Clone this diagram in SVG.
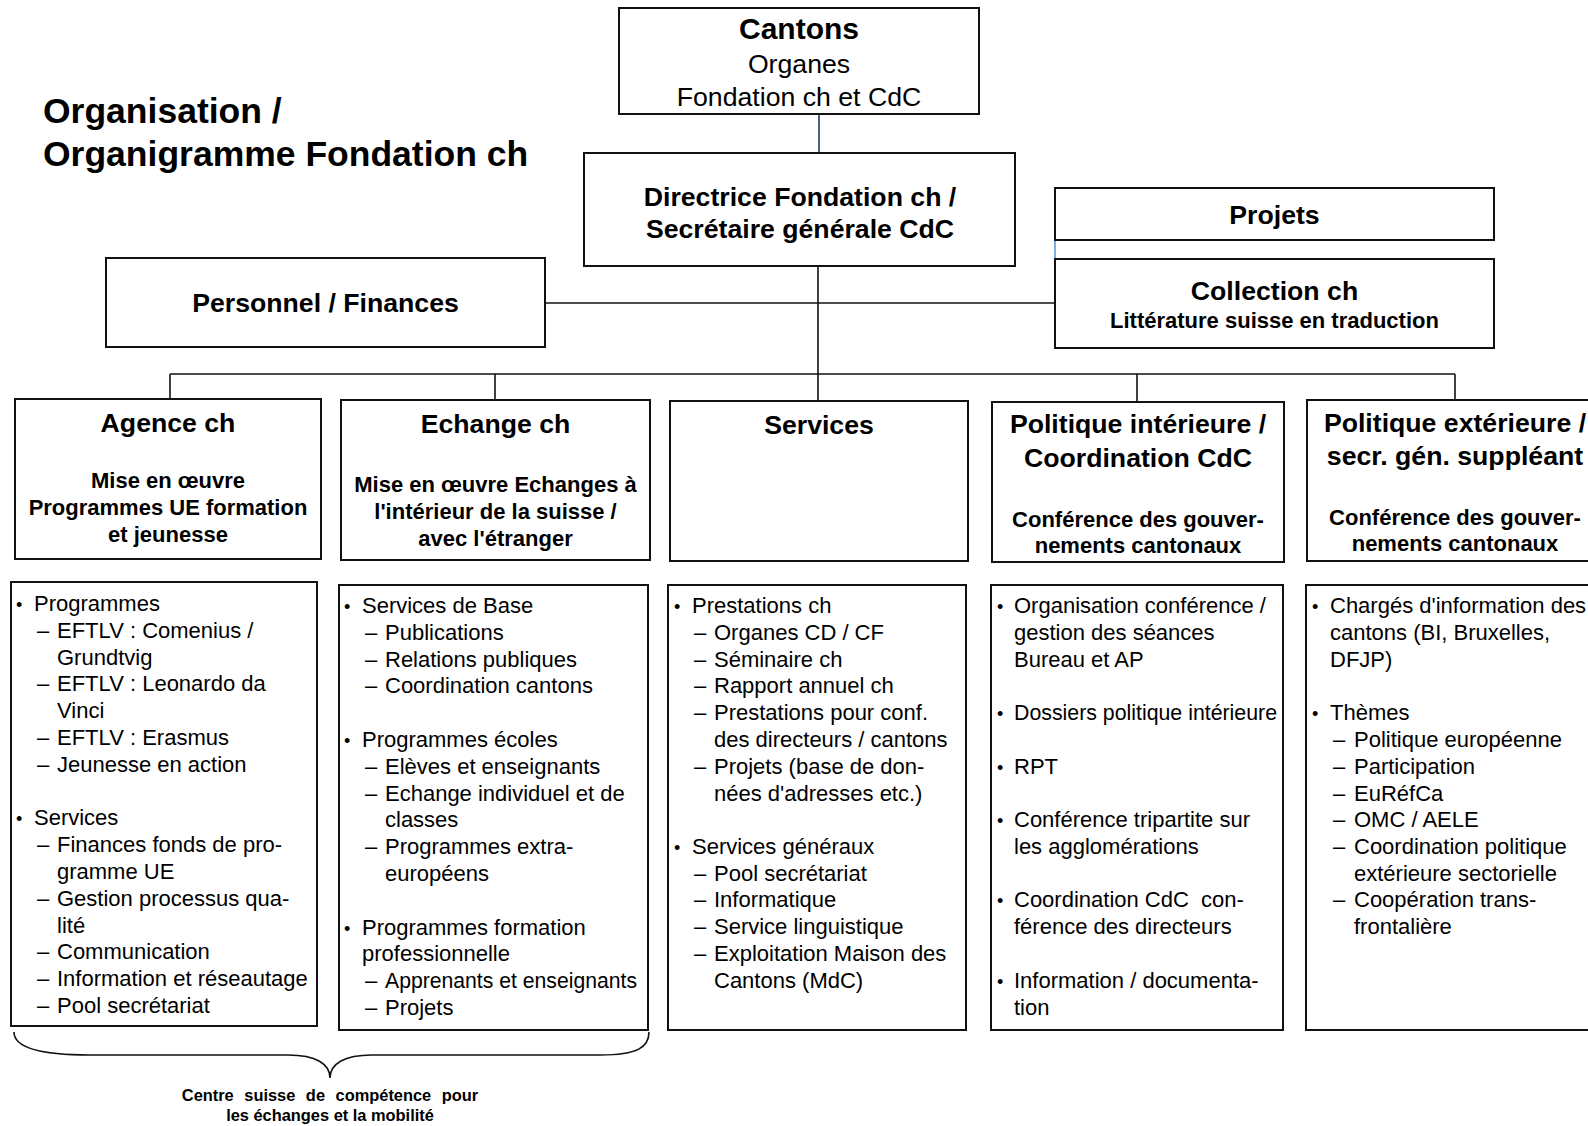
<svg xmlns="http://www.w3.org/2000/svg" width="1588" height="1126" viewBox="0 0 1588 1126">
<style>
text{font-family:"Liberation Sans",Arial,sans-serif;fill:#000}
.box{fill:#fff;stroke:#111;stroke-width:2}
.ln{fill:none;stroke:#111;stroke-width:1.6}
.t1{font-size:26.67px;font-weight:bold;text-anchor:middle}
.t2{font-size:22px;font-weight:bold;text-anchor:middle}
.tr{font-size:26.67px;text-anchor:middle}
.li{font-size:22px}
.bu{font-size:18px}
.title{font-size:35.5px;font-weight:bold}
.cap{font-size:16.4px;font-weight:bold;text-anchor:middle}
</style>
<rect width="1588" height="1126" fill="#fff"/>

<g id="title">
<text class="title" x="43" y="123">Organisation /</text>
<text class="title" x="43" y="166">Organigramme Fondation ch</text>
</g>

<g id="connectors">
<line x1="819" y1="114" x2="819" y2="153" stroke="#203864" stroke-width="1.6"/>
<line class="ln" x1="818" y1="266" x2="818" y2="401"/>
<line class="ln" x1="170" y1="374" x2="1455" y2="374"/>
<line class="ln" x1="170" y1="374" x2="170" y2="399"/>
<line class="ln" x1="495" y1="374" x2="495" y2="400"/>
<line class="ln" x1="1137" y1="374" x2="1137" y2="402"/>
<line class="ln" x1="1455" y1="374" x2="1455" y2="400"/>
<line class="ln" x1="545" y1="303" x2="1055" y2="303"/>
<line x1="1055" y1="240" x2="1055" y2="259" stroke="#5B9BD5" stroke-width="1.6"/>
<path class="ln" d="M14,1032 C14,1047 38,1055 90,1055 L288,1055 C316,1055 330,1064 330,1078 C330,1064 344,1055 372,1055 L600,1055 C638,1055 649,1047 649,1032"/>
</g>

<g id="cantons">
<rect class="box" x="619" y="8" width="360" height="106"/>
<text x="799" y="39" style="font-size:30px;font-weight:bold;text-anchor:middle">Cantons</text>
<text class="tr" x="799" y="73">Organes</text>
<text class="tr" x="799" y="106">Fondation ch et CdC</text>
</g>

<g id="directrice">
<rect class="box" x="584" y="153" width="431" height="113"/>
<text class="t1" x="800" y="206">Directrice Fondation ch /</text>
<text class="t1" x="800" y="238">Secrétaire générale CdC</text>
</g>

<g id="projets">
<rect class="box" x="1055" y="188" width="439" height="52"/>
<text class="t1" x="1274.5" y="224">Projets</text>
</g>

<g id="collection">
<rect class="box" x="1055" y="259" width="439" height="89"/>
<text class="t1" x="1274.5" y="300">Collection ch</text>
<text class="t2" x="1274.5" y="328">Littérature suisse en traduction</text>
</g>

<g id="personnel">
<rect class="box" x="106" y="258" width="439" height="89"/>
<text class="t1" x="325.5" y="312">Personnel / Finances</text>
</g>

<g id="agence">
<rect class="box" x="15" y="399" width="306" height="160"/>
<text class="t1" x="168" y="432">Agence ch</text>
<text class="t2" x="168" y="488">Mise en œuvre</text>
<text class="t2" x="168" y="515">Programmes UE formation</text>
<text class="t2" x="168" y="542">et jeunesse</text>
</g>

<g id="echange">
<rect class="box" x="341" y="400" width="309" height="160"/>
<text class="t1" x="495.5" y="433">Echange ch</text>
<text class="t2" x="495.5" y="492">Mise en œuvre Echanges à</text>
<text class="t2" x="495.5" y="519">l'intérieur de la suisse /</text>
<text class="t2" x="495.5" y="546">avec l'étranger</text>
</g>

<g id="services">
<rect class="box" x="670" y="401" width="298" height="160"/>
<text class="t1" x="819" y="434">Services</text>
</g>

<g id="politique-interieure">
<rect class="box" x="992" y="402" width="292" height="160"/>
<text class="t1" x="1138" y="433">Politique intérieure /</text>
<text class="t1" x="1138" y="467">Coordination CdC</text>
<text class="t2" x="1138" y="527">Conférence des gouver-</text>
<text class="t2" x="1138" y="553">nements cantonaux</text>
</g>

<g id="politique-exterieure">
<rect class="box" x="1307" y="400" width="300" height="161"/>
<text class="t1" x="1455" y="432">Politique extérieure /</text>
<text class="t1" x="1455" y="465">secr. gén. suppléant</text>
<text class="t2" x="1455" y="525">Conférence des gouver-</text>
<text class="t2" x="1455" y="551">nements cantonaux</text>
</g>

<g id="agence-liste">
<rect class="box" x="11" y="582" width="306" height="444"/>
<text class="bu" x="16" y="611">•</text><text class="li" x="34" y="611">Programmes</text>
<text class="li" x="37" y="638">–</text><text class="li" x="57" y="638">EFTLV : Comenius /</text>
<text class="li" x="57" y="665">Grundtvig</text>
<text class="li" x="37" y="691">–</text><text class="li" x="57" y="691">EFTLV : Leonardo da</text>
<text class="li" x="57" y="718">Vinci</text>
<text class="li" x="37" y="745">–</text><text class="li" x="57" y="745">EFTLV : Erasmus</text>
<text class="li" x="37" y="772">–</text><text class="li" x="57" y="772">Jeunesse en action</text>
<text class="bu" x="16" y="825">•</text><text class="li" x="34" y="825">Services</text>
<text class="li" x="37" y="852">–</text><text class="li" x="57" y="852">Finances fonds de pro-</text>
<text class="li" x="57" y="879">gramme UE</text>
<text class="li" x="37" y="906">–</text><text class="li" x="57" y="906">Gestion processus qua-</text>
<text class="li" x="57" y="933">lité</text>
<text class="li" x="37" y="959">–</text><text class="li" x="57" y="959">Communication</text>
<text class="li" x="37" y="986">–</text><text class="li" x="57" y="986">Information et réseautage</text>
<text class="li" x="37" y="1013">–</text><text class="li" x="57" y="1013">Pool secrétariat</text>
</g>

<g id="echange-liste">
<rect class="box" x="339" y="585" width="309" height="445"/>
<text class="bu" x="344" y="613">•</text><text class="li" x="362" y="613">Services de Base</text>
<text class="li" x="365" y="640">–</text><text class="li" x="385" y="640">Publications</text>
<text class="li" x="365" y="667">–</text><text class="li" x="385" y="667">Relations publiques</text>
<text class="li" x="365" y="693">–</text><text class="li" x="385" y="693">Coordination cantons</text>
<text class="bu" x="344" y="747">•</text><text class="li" x="362" y="747">Programmes écoles</text>
<text class="li" x="365" y="774">–</text><text class="li" x="385" y="774">Elèves et enseignants</text>
<text class="li" x="365" y="801">–</text><text class="li" x="385" y="801">Echange individuel et de</text>
<text class="li" x="385" y="827">classes</text>
<text class="li" x="365" y="854">–</text><text class="li" x="385" y="854">Programmes extra-</text>
<text class="li" x="385" y="881">européens</text>
<text class="bu" x="344" y="935">•</text><text class="li" x="362" y="935">Programmes formation</text>
<text class="li" x="362" y="961">professionnelle</text>
<text class="li" x="365" y="988">–</text><text class="li" x="385" y="988" textLength="252" lengthAdjust="spacingAndGlyphs">Apprenants et enseignants</text>
<text class="li" x="365" y="1015">–</text><text class="li" x="385" y="1015">Projets</text>
</g>

<g id="services-liste">
<rect class="box" x="668" y="585" width="298" height="445"/>
<text class="bu" x="674" y="613">•</text><text class="li" x="692" y="613">Prestations ch</text>
<text class="li" x="694" y="640">–</text><text class="li" x="714" y="640">Organes CD / CF</text>
<text class="li" x="694" y="667">–</text><text class="li" x="714" y="667">Séminaire ch</text>
<text class="li" x="694" y="693">–</text><text class="li" x="714" y="693">Rapport annuel ch</text>
<text class="li" x="694" y="720">–</text><text class="li" x="714" y="720">Prestations pour conf.</text>
<text class="li" x="714" y="747">des directeurs / cantons</text>
<text class="li" x="694" y="774">–</text><text class="li" x="714" y="774">Projets (base de don-</text>
<text class="li" x="714" y="801">nées d'adresses etc.)</text>
<text class="bu" x="674" y="854">•</text><text class="li" x="692" y="854">Services généraux</text>
<text class="li" x="694" y="881">–</text><text class="li" x="714" y="881">Pool secrétariat</text>
<text class="li" x="694" y="907">–</text><text class="li" x="714" y="907">Informatique</text>
<text class="li" x="694" y="934">–</text><text class="li" x="714" y="934">Service linguistique</text>
<text class="li" x="694" y="961">–</text><text class="li" x="714" y="961">Exploitation Maison des</text>
<text class="li" x="714" y="988">Cantons (MdC)</text>
</g>

<g id="politique-interieure-liste">
<rect class="box" x="991" y="585" width="292" height="445"/>
<text class="bu" x="997" y="613">•</text><text class="li" x="1014" y="613">Organisation conférence /</text>
<text class="li" x="1014" y="640">gestion des séances</text>
<text class="li" x="1014" y="667">Bureau et AP</text>
<text class="bu" x="997" y="720">•</text><text class="li" x="1014" y="720" textLength="263" lengthAdjust="spacingAndGlyphs">Dossiers politique intérieure</text>
<text class="bu" x="997" y="774">•</text><text class="li" x="1014" y="774">RPT</text>
<text class="bu" x="997" y="827">•</text><text class="li" x="1014" y="827">Conférence tripartite sur</text>
<text class="li" x="1014" y="854">les agglomérations</text>
<text class="bu" x="997" y="907">•</text><text class="li" x="1014" y="907" xml:space="preserve">Coordination CdC  con-</text>
<text class="li" x="1014" y="934">férence des directeurs</text>
<text class="bu" x="997" y="988">•</text><text class="li" x="1014" y="988">Information / documenta-</text>
<text class="li" x="1014" y="1015">tion</text>
</g>

<g id="politique-exterieure-liste">
<rect class="box" x="1306" y="585" width="300" height="445"/>
<text class="bu" x="1312" y="613">•</text><text class="li" x="1330" y="613">Chargés d'information des</text>
<text class="li" x="1330" y="640">cantons (BI, Bruxelles,</text>
<text class="li" x="1330" y="667">DFJP)</text>
<text class="bu" x="1312" y="720">•</text><text class="li" x="1330" y="720">Thèmes</text>
<text class="li" x="1333" y="747">–</text><text class="li" x="1354" y="747">Politique européenne</text>
<text class="li" x="1333" y="774">–</text><text class="li" x="1354" y="774">Participation</text>
<text class="li" x="1333" y="801">–</text><text class="li" x="1354" y="801">EuRéfCa</text>
<text class="li" x="1333" y="827">–</text><text class="li" x="1354" y="827">OMC / AELE</text>
<text class="li" x="1333" y="854">–</text><text class="li" x="1354" y="854">Coordination politique</text>
<text class="li" x="1354" y="881">extérieure sectorielle</text>
<text class="li" x="1333" y="907">–</text><text class="li" x="1354" y="907">Coopération trans-</text>
<text class="li" x="1354" y="934">frontalière</text>
</g>

<g id="centre-competence">
<text class="cap" x="330" y="1101" style="word-spacing:6px">Centre suisse de compétence pour</text>
<text class="cap" x="330" y="1121">les échanges et la mobilité</text>
</g>
</svg>
